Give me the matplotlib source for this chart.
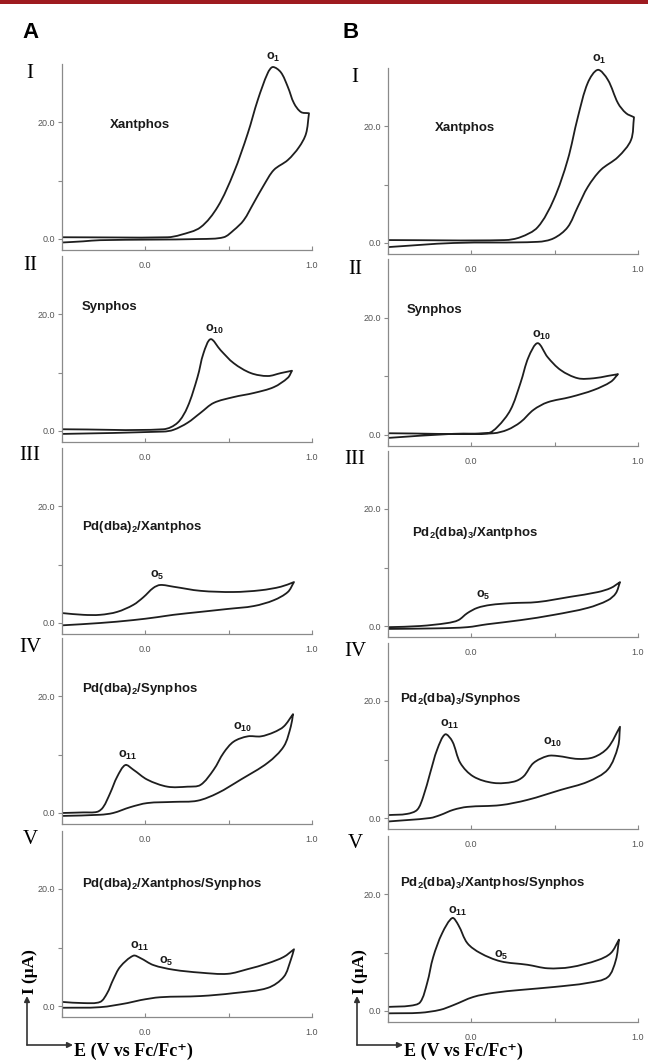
import matplotlib.pyplot as plt
from matplotlib.patches import FancyArrowPatch, Rectangle, PathPatch
from matplotlib.path import Path

plt.rcParams['font.family'] = ['Liberation Sans', 'DejaVu Sans']
plt.rcParams['mathtext.fontset'] = 'custom'
plt.rcParams['mathtext.rm'] = 'Liberation Sans'
plt.rcParams['mathtext.bf'] = 'Liberation Sans:bold'

# column A, panels I-V : forward (upper) and reverse (lower) branches, E in V, I in uA
a1_up_x = [-0.5, 0.133, 0.211, 0.331, 0.434, 0.530, 0.614, 0.675, 0.735, 0.765, 0.813, 0.855, 0.892, 0.934, 0.982]
a1_up_y = [0.3, 0.3, 0.7, 2.0, 5.5, 11.3, 18.0, 23.8, 28.4, 29.4, 28.5, 26.0, 23.2, 21.7, 21.5]
a1_lo_x = [0.982, 0.964, 0.922, 0.855, 0.771, 0.711, 0.651, 0.590, 0.530, 0.470, 0.331, -0.271, -0.373, -0.5]
a1_lo_y = [21.5, 18.0, 15.7, 13.5, 11.8, 9.2, 6.2, 3.2, 1.5, 0.3, 0.0, -0.2, -0.4, -0.6]

a2_up_x = [-0.5, 0.108, 0.193, 0.253, 0.313, 0.349, 0.392, 0.452, 0.530, 0.633, 0.735, 0.813, 0.880]
a2_up_y = [0.3, 0.3, 1.4, 4.1, 9.2, 13.3, 15.7, 13.8, 11.6, 9.9, 9.4, 9.9, 10.3]
a2_lo_x = [0.880, 0.855, 0.771, 0.651, 0.530, 0.410, 0.331, 0.253, 0.169, 0.108, -0.5]
a2_lo_y = [10.3, 9.1, 7.5, 6.5, 5.8, 4.8, 3.1, 1.4, 0.2, -0.1, -0.5]

a3_up_x = [-0.5, -0.373, -0.271, -0.169, -0.072, -0.012, 0.048, 0.090, 0.169, 0.331, 0.530, 0.693, 0.813, 0.892]
a3_up_y = [1.7, 1.4, 1.4, 1.9, 3.1, 4.4, 6.0, 6.5, 6.2, 5.5, 5.3, 5.6, 6.2, 7.0]
a3_lo_x = [0.892, 0.855, 0.771, 0.651, 0.494, 0.331, 0.169, 0.072, -0.072, -0.271, -0.5]
a3_lo_y = [7.0, 5.3, 3.9, 2.9, 2.4, 1.9, 1.4, 1.0, 0.5, 0.0, -0.4]

a4_up_x = [-0.5, -0.373, -0.289, -0.253, -0.211, -0.169, -0.120, -0.072, 0.012, 0.133, 0.253, 0.331,
           0.410, 0.470, 0.530, 0.614, 0.693, 0.771, 0.831, 0.886]
a4_up_y = [0.0, 0.1, 0.2, 1.0, 3.4, 6.2, 8.2, 7.4, 5.7, 4.5, 4.5, 4.8, 7.4, 10.3, 12.2, 13.1, 13.1, 13.8, 14.8, 16.9]
a4_lo_x = [0.886, 0.873, 0.831, 0.735, 0.572, 0.434, 0.313, 0.169, 0.012, -0.090, -0.193, -0.271, -0.5]
a4_lo_y = [16.9, 14.8, 11.4, 8.6, 5.7, 3.4, 2.1, 1.9, 1.7, 1.0, 0.0, -0.3, -0.5]

a5_up_x = [-0.5, -0.373, -0.271, -0.229, -0.193, -0.151, -0.072, -0.030, 0.048, 0.169, 0.331, 0.494, 0.614, 0.735, 0.831, 0.892]
a5_up_y = [0.7, 0.5, 0.7, 2.2, 4.5, 6.7, 8.6, 8.2, 7.0, 6.2, 5.7, 5.5, 6.3, 7.3, 8.4, 9.7]
a5_lo_x = [0.892, 0.873, 0.831, 0.735, 0.530, 0.331, 0.090, -0.030, -0.108, -0.271, -0.5]
a5_lo_y = [9.7, 7.9, 5.0, 3.1, 2.2, 1.7, 1.5, 1.0, 0.5, -0.2, -0.3]

# column B
b1_up_x = [-0.5, 0.2, 0.295, 0.398, 0.494, 0.578, 0.639, 0.699, 0.759, 0.819, 0.880, 0.928, 0.976]
b1_up_y = [0.5, 0.5, 1.0, 2.7, 7.4, 14.2, 21.5, 27.4, 29.6, 27.9, 23.9, 22.2, 21.5]
b1_lo_x = [0.976, 0.958, 0.880, 0.777, 0.699, 0.639, 0.578, 0.494, 0.398, -0.108, -0.5]
b1_lo_y = [21.5, 17.6, 14.7, 12.5, 9.6, 6.2, 2.7, 0.8, 0.2, 0.0, -0.7]

b2_up_x = [-0.5, 0.096, 0.157, 0.235, 0.295, 0.343, 0.398, 0.458, 0.536, 0.639, 0.735, 0.819, 0.880]
b2_up_y = [0.3, 0.3, 1.4, 4.3, 8.9, 13.3, 15.7, 13.3, 11.1, 9.7, 9.7, 10.1, 10.4]
b2_lo_x = [0.880, 0.837, 0.735, 0.596, 0.458, 0.373, 0.295, 0.217, 0.133, -0.108, -0.5]
b2_lo_y = [10.4, 9.1, 7.7, 6.5, 5.6, 4.3, 2.2, 0.9, 0.3, 0.2, -0.5]

b3_up_x = [-0.5, -0.307, -0.145, -0.078, -0.024, 0.036, 0.114, 0.235, 0.398, 0.596, 0.759, 0.837, 0.892]
b3_up_y = [-0.2, 0.0, 0.5, 1.0, 2.2, 3.1, 3.6, 3.9, 4.1, 5.0, 5.8, 6.5, 7.5]
b3_lo_x = [0.892, 0.867, 0.819, 0.699, 0.494, 0.295, 0.096, -0.024, -0.205, -0.5]
b3_lo_y = [7.5, 5.6, 4.4, 3.1, 1.9, 1.0, 0.3, -0.2, -0.4, -0.5]

b4_up_x = [-0.5, -0.386, -0.325, -0.289, -0.247, -0.205, -0.157, -0.114, -0.066, 0.012, 0.133, 0.253,
           0.313, 0.373, 0.458, 0.518, 0.639, 0.735, 0.819, 0.892]
b4_up_y = [0.5, 0.7, 1.4, 3.6, 7.7, 11.7, 14.3, 13.1, 9.4, 7.1, 6.0, 6.2, 7.1, 9.4, 10.6, 10.6, 10.1, 10.4, 12.0, 15.6]
b4_lo_x = [0.892, 0.880, 0.819, 0.699, 0.536, 0.337, 0.175, -0.024, -0.108, -0.187, -0.247, -0.5]
b4_lo_y = [15.6, 12.2, 8.3, 6.2, 4.8, 3.1, 2.2, 1.9, 1.4, 0.5, 0.0, -0.6]

b5_up_x = [-0.5, -0.367, -0.307, -0.265, -0.229, -0.175, -0.114, -0.078, -0.024, 0.054, 0.175, 0.337,
           0.458, 0.596, 0.759, 0.837, 0.886]
b5_up_y = [0.7, 0.9, 1.5, 4.8, 9.2, 13.3, 15.9, 14.7, 11.6, 9.9, 8.5, 7.9, 7.3, 7.5, 8.7, 9.9, 12.2]
b5_lo_x = [0.886, 0.867, 0.819, 0.699, 0.494, 0.295, 0.133, 0.012, -0.108, -0.187, -0.307, -0.5]
b5_lo_y = [12.2, 8.7, 5.8, 4.8, 4.1, 3.6, 3.1, 2.4, 1.0, 0.2, -0.3, -0.4]

romans = ["I", "II", "III", "IV", "V"]
names_a = ["Xantphos", "Synphos", r"Pd(dba)$_\mathbf{2}$/Xantphos", r"Pd(dba)$_\mathbf{2}$/Synphos",
           r"Pd(dba)$_\mathbf{2}$/Xantphos/Synphos"]
names_b = ["Xantphos", "Synphos", r"Pd$_\mathbf{2}$(dba)$_\mathbf{3}$/Xantphos", r"Pd$_\mathbf{2}$(dba)$_\mathbf{3}$/Synphos",
           r"Pd$_\mathbf{2}$(dba)$_\mathbf{3}$/Xantphos/Synphos"]
name_pos_a = [(-0.21, 19.5), (-0.38, 21.2), (-0.38, 16.4), (-0.38, 21.2), (-0.38, 20.9)]
name_pos_b = [(-0.22, 19.7), (-0.39, 21.4), (-0.355, 15.9), (-0.43, 20.3), (-0.43, 21.9)]
# peak labels: (number, E, I)
peaks_a = [[("1", 0.723, 31.1)], [("10", 0.361, 17.3)], [("5", 0.030, 8.2)],
           [("11", -0.163, 9.8), ("10", 0.524, 14.7)], [("11", -0.090, 10.2), ("5", 0.084, 7.6)]]
peaks_b = [[("1", 0.723, 31.3)], [("10", 0.361, 17.1)], [("5", 0.030, 5.3)],
           [("11", -0.187, 16.0), ("10", 0.428, 12.9)], [("11", -0.139, 17.1), ("5", 0.133, 9.5)]]

col_a = [(a1_up_x, a1_up_y, a1_lo_x, a1_lo_y), (a2_up_x, a2_up_y, a2_lo_x, a2_lo_y),
         (a3_up_x, a3_up_y, a3_lo_x, a3_lo_y), (a4_up_x, a4_up_y, a4_lo_x, a4_lo_y),
         (a5_up_x, a5_up_y, a5_lo_x, a5_lo_y)]
col_b = [(b1_up_x, b1_up_y, b1_lo_x, b1_lo_y), (b2_up_x, b2_up_y, b2_lo_x, b2_lo_y),
         (b3_up_x, b3_up_y, b3_lo_x, b3_lo_y), (b4_up_x, b4_up_y, b4_lo_x, b4_lo_y),
         (b5_up_x, b5_up_y, b5_lo_x, b5_lo_y)]

ppv, ppu = 166.0, 5.85  # pixels per volt, pixels per uA


def smooth_branch(xs, ys, verts, codes):
    # Hermite curve through the read points (chord-length tangents), as cubic Bezier segments
    n = len(xs)
    t = [0.0]
    for i in range(1, n):
        d = ((xs[i] - xs[i - 1]) * ppv) ** 2 + ((ys[i] - ys[i - 1]) * ppu) ** 2
        t.append(t[-1] + max(d ** 0.5, 1e-6))
    m = []
    for i in range(n):
        a, b = max(i - 1, 0), min(i + 1, n - 1)
        dt = t[b] - t[a]
        m.append(((xs[b] - xs[a]) / dt, (ys[b] - ys[a]) / dt))
    if not verts:
        verts.append((xs[0], ys[0]))
        codes.append(Path.MOVETO)
    for i in range(n - 1):
        h = (t[i + 1] - t[i]) / 3
        verts += [(xs[i] + m[i][0] * h, ys[i] + m[i][1] * h),
                  (xs[i + 1] - m[i + 1][0] * h, ys[i + 1] - m[i + 1][1] * h),
                  (xs[i + 1], ys[i + 1])]
        codes += [Path.CURVE4] * 3


W, H = 648, 1063
fig = plt.figure(figsize=(W / 100, H / 100), dpi=100)
fig.add_artist(Rectangle((0, 1 - 4 / H), 1, 4 / H, transform=fig.transFigure, color="#9e1b20", lw=0))

ymin, ymax = -1.8, 30


def make_axes(left, y0):
    bottom = y0 - ymin * ppu
    h = (ymax - ymin) * ppu
    ax = fig.add_axes([left / W, 1 - bottom / H, 250 / W, h / H])
    ax.patch.set_visible(False)
    ax.set_xlim(-0.5, 1.0)
    ax.set_ylim(ymin, ymax)
    for s in ["top", "right"]:
        ax.spines[s].set_visible(False)
    for s in ["left", "bottom"]:
        ax.spines[s].set_color("#8a8a8a")
        ax.spines[s].set_linewidth(0.9)
    ax.set_xticks([-0.5, 0.0, 0.5, 1.0])
    ax.set_xticklabels(["", "0.0", "", "1.0"])
    ax.set_yticks([0, 10, 20])
    ax.set_yticklabels(["0.0", "", "20.0"])
    ax.tick_params(axis="x", direction="in", length=3, pad=8.5, labelsize=6.5, colors="#8a8a8a", labelcolor="#555555")
    ax.tick_params(axis="y", direction="out", length=3, pad=2, labelsize=6.5, colors="#8a8a8a", labelcolor="#555555")
    return ax


cols = [(62, [239, 431, 623, 813, 1006], col_a, names_a, name_pos_a, peaks_a, 30, "A", 22),
        (388, [243, 435, 626, 818, 1011], col_b, names_b, name_pos_b, peaks_b, 355, "B", 342)]

for left, y0s, data, names, name_pos, peaks, rx, letter, lx in cols:
    fig.text(lx / W, 1 - 33 / H, letter, fontsize=16, fontweight="bold", va="center", ha="left")
    for i in range(5):
        ax = make_axes(left, y0s[i])
        ux, uy, lox, loy = data[i]
        verts, codes = [], []
        smooth_branch(ux, uy, verts, codes)
        smooth_branch(lox, loy, verts, codes)
        ax.add_patch(PathPatch(Path(verts, codes), fill=False, edgecolor="#1e1e1e", lw=1.3,
                               joinstyle="round", clip_on=False))
        nx, ny = name_pos[i]
        ax.text(nx, ny, names[i], fontsize=9.5, fontweight="bold", va="center", ha="left", color="#1a1a1a")
        for num, px, py in peaks[i]:
            ax.text(px, py, "o$_\\mathbf{" + num + "}$", fontsize=9, fontweight="bold",
                    va="center", ha="left", color="#1a1a1a")
        ty = [73, 266, 455, 648, 840][i] + (0 if letter == "A" else 4)
        fig.text(rx / W, 1 - ty / H, romans[i], fontsize=15, family=["Liberation Serif", "DejaVu Serif"],
                 va="center", ha="center")

# axis arrows under each column
for ax0 in [27, 357]:
    fig.add_artist(FancyArrowPatch((ax0 / W, 1 - 1045 / H), (ax0 / W, 1 - 996 / H), transform=fig.transFigure,
                                   arrowstyle="-|>", mutation_scale=8, lw=1.2, color="#333333",
                                   shrinkA=0, shrinkB=0))
    fig.add_artist(FancyArrowPatch((ax0 / W, 1 - 1045 / H), ((ax0 + 46) / W, 1 - 1045 / H), transform=fig.transFigure,
                                   arrowstyle="-|>", mutation_scale=8, lw=1.2, color="#333333",
                                   shrinkA=0, shrinkB=0))
    fig.text((ax0 + 3) / W, 1 - 972 / H, "I (μA)", rotation=90, fontsize=12.5, fontweight="bold",
             family=["Liberation Serif", "DejaVu Serif"], va="center", ha="center")
    fig.text((ax0 + 47) / W, 1 - 1051 / H, "E (V vs Fc/Fc⁺)", fontsize=13, fontweight="bold",
             family=["Liberation Serif", "DejaVu Serif"], va="center", ha="left")

fig.savefig("out.png", dpi=100)
